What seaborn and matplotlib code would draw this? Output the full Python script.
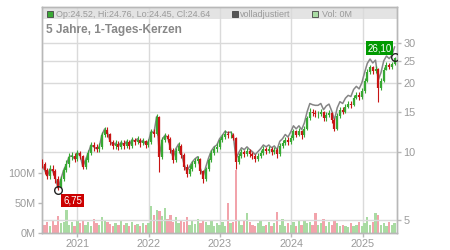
import matplotlib
matplotlib.use("Agg")
import matplotlib.pyplot as plt
import matplotlib.dates as mdates
from matplotlib.patches import Rectangle
import pandas as pd
import seaborn as sns

# ---------------- data (biweekly samples) ----------------
start_date = "2020-07-03"
first_open = 9.0
close = [
    8.8, 8.3, 7.8, 8.4, 8.2, 7.6, 6.9, 7.6, 8.3, 8.8,
    9.5, 9.6, 9.3, 9.9, 9.6, 8.6, 9.2, 9.9, 10.7, 10.5,
    10.3, 10.5, 11.9, 12.5, 12.0, 11.0, 10.6, 10.8, 10.5, 10.9,
    10.6, 11.0, 10.6, 11.2, 11.0, 11.3, 10.9, 11.1, 10.7, 11.0,
    12.2, 12.0, 14.2, 9.5, 11.2, 11.7, 11.4, 10.2, 9.2, 10.1,
    10.6, 9.7, 8.6, 8.0, 8.4, 8.8, 9.1, 9.3, 8.2, 7.6,
    8.4, 9.2, 9.9, 10.3, 10.5, 11.2, 11.6, 12.0, 11.8, 11.9,
    11.5, 9.0, 9.6, 10.0, 9.8, 10.1, 9.8, 9.6, 9.3, 9.6,
    9.9, 10.3, 10.1, 10.3, 10.0, 10.2, 9.8, 10.6, 10.9, 11.3,
    11.0, 11.5, 12.3, 11.9, 12.3, 11.8, 12.6, 14.0, 15.0, 14.8,
    14.6, 14.6, 14.9, 14.0, 14.5, 14.8, 13.8, 12.6, 14.4, 15.3,
    15.0, 15.8, 16.3, 16.1, 17.3, 17.8, 17.4, 18.5, 20.5, 22.5,
    23.5, 22.6, 23.2, 19.0, 20.5, 23.0, 24.2, 23.6, 24.3, 25.9,
]
high = [
    9.3, 9.0, 8.5, 8.7, 8.7, 8.4, 7.8, 7.8, 8.6, 9.2,
    9.9, 10.0, 9.9, 10.2, 10.1, 9.7, 9.5, 10.2, 11.0, 11.0,
    10.8, 10.9, 12.2, 12.9, 12.8, 12.1, 11.2, 11.2, 11.1, 11.3,
    11.2, 11.4, 11.3, 11.6, 11.5, 11.7, 11.5, 11.5, 11.3, 11.4,
    12.6, 12.6, 14.6, 14.4, 11.6, 12.1, 12.0, 11.6, 10.4, 10.4,
    11.0, 10.8, 9.9, 8.8, 8.7, 9.1, 9.4, 9.6, 9.4, 8.3,
    8.6, 9.4, 10.2, 10.6, 10.9, 11.5, 12.0, 12.4, 12.3, 12.3,
    12.1, 11.6, 9.9, 10.3, 10.2, 10.4, 10.3, 10.0, 9.8, 9.9,
    10.2, 10.6, 10.5, 10.6, 10.5, 10.5, 10.4, 10.9, 11.2, 11.6,
    11.6, 11.8, 12.6, 12.5, 12.7, 12.5, 13.0, 14.4, 15.5, 15.4,
    15.2, 15.1, 15.4, 15.1, 14.9, 15.3, 15.0, 14.0, 14.8, 15.8,
    15.7, 16.3, 16.8, 16.8, 17.8, 18.4, 18.3, 19.1, 21.2, 23.2,
    24.2, 23.9, 23.9, 23.4, 21.2, 23.6, 24.8, 24.6, 24.9, 26.1,
]
low = [
    8.5, 8.0, 7.6, 7.6, 7.9, 7.3, 6.75, 6.9, 7.4, 8.1,
    8.6, 9.2, 9.0, 9.1, 9.3, 8.4, 8.4, 9.0, 9.7, 10.1,
    10.0, 10.0, 10.3, 11.6, 11.6, 10.7, 10.3, 10.3, 10.2, 10.3,
    10.3, 10.4, 10.3, 10.4, 10.7, 10.8, 10.5, 10.7, 10.4, 10.5,
    10.8, 11.6, 11.8, 8.1, 9.3, 11.0, 11.0, 9.9, 8.9, 9.0,
    9.9, 9.4, 8.3, 7.7, 7.8, 8.2, 8.6, 8.9, 8.0, 7.3,
    7.4, 8.2, 9.0, 9.7, 10.0, 10.3, 11.0, 11.4, 11.5, 11.5,
    11.2, 8.4, 8.8, 9.4, 9.5, 9.6, 9.5, 9.3, 9.0, 9.1,
    9.4, 9.7, 9.8, 9.9, 9.7, 9.8, 9.4, 9.6, 10.4, 10.7,
    10.7, 10.8, 11.3, 11.6, 11.7, 11.4, 11.6, 12.4, 13.8, 14.4,
    14.2, 14.1, 14.3, 13.6, 13.7, 14.2, 13.4, 12.3, 12.4, 14.1,
    14.6, 14.8, 15.5, 15.6, 15.9, 17.0, 16.9, 17.1, 18.2, 20.2,
    22.1, 22.0, 22.2, 16.6, 18.6, 20.2, 22.8, 23.1, 23.2, 24.0,
]
adjusted = [
    8.8, 8.3, 7.8, 8.4, 8.2, 7.6, 6.9, 7.6, 8.3, 8.8,
    9.5, 9.6, 9.3, 9.9, 9.6, 8.6, 9.2, 9.9, 10.7, 10.5,
    10.3, 10.5, 11.9, 12.6, 12.1, 11.1, 10.7, 10.9, 10.6, 11.0,
    10.7, 11.1, 10.7, 11.3, 11.1, 11.4, 11.0, 11.2, 10.8, 11.1,
    12.3, 12.1, 14.3, 9.6, 11.3, 11.8, 11.6, 10.4, 9.4, 10.3,
    10.8, 9.9, 8.8, 8.2, 8.6, 9.0, 9.3, 9.5, 8.4, 7.8,
    8.6, 9.4, 10.1, 10.5, 10.7, 11.4, 11.8, 12.3, 12.1, 12.2,
    11.8, 9.3, 9.9, 10.4, 10.2, 10.5, 10.2, 10.0, 9.7, 10.0,
    10.3, 10.7, 10.5, 10.7, 10.4, 10.6, 10.2, 11.1, 11.4, 11.9,
    11.6, 12.2, 13.0, 12.6, 13.0, 12.5, 13.4, 15.0, 16.3, 16.1,
    16.0, 16.0, 16.3, 15.3, 15.9, 16.2, 15.1, 13.8, 15.6, 16.6,
    16.3, 17.2, 17.7, 17.5, 18.8, 19.4, 18.9, 20.1, 22.3, 24.5,
    25.6, 24.6, 25.3, 20.7, 22.3, 25.1, 26.4, 25.7, 26.6, 29.0,
]
volume_m = [
    22, 14, 18, 12, 20, 14, 28, 16, 18, 38,
    14, 18, 12, 22, 16, 20, 14, 18, 12, 24,
    16, 14, 26, 20, 18, 15, 12, 17, 14, 20,
    13, 16, 12, 18, 14, 15, 12, 16, 13, 17,
    45, 30, 39, 36, 28, 42, 24, 30, 18, 26,
    16, 22, 18, 26, 14, 20, 15, 24, 16, 22,
    18, 14, 20, 12, 16, 14, 18, 12, 50, 16,
    18, 105, 20, 14, 22, 34, 18, 14, 12, 16,
    20, 12, 14, 18, 12, 16, 35, 14, 23, 12,
    16, 14, 18, 12, 20, 14, 22, 16, 18, 14,
    34, 14, 16, 24, 12, 18, 14, 20, 16, 12,
    14, 12, 10, 16, 12, 14, 18, 12, 16, 26,
    14, 18, 33, 30, 14, 16, 12, 18, 14, 16,
]
price_ticks = [5, 10, 15, 20, 25, 30]
vol_ticks_m = [0, 50, 100]
title_text = "5 Jahre, 1-Tages-Kerzen"
legend_ohlc = "Op:24.52, Hi:24.76, Lo:24.45, Cl:24.64"
legend_adj = "volladjustiert"
legend_vol = "Vol: 0M"
x_start, x_end = "2020-07-02", "2025-06-25"

# ---------------- styling ----------------
sns.set_theme(style="white")
plt.rcParams["font.family"] = ["Liberation Sans", "DejaVu Sans"]

GREEN = "#36a832"
RED = "#c81414"
VOL_GREEN = "#a9dba3"
VOL_RED = "#f2a3ab"
GRID = "#dadada"
SPINE = "#b8b8b8"
LABEL = "#9a9a9a"

W, H = 450, 250
fig = plt.figure(figsize=(4.5, 2.5), dpi=100)
fig.patch.set_facecolor("white")
L, R, T, B = 41.6, 397.0, 7.0, 233.0
axv = fig.add_axes([L / W, 1 - B / H, (R - L) / W, (B - T) / H])

dates = pd.date_range(start_date, periods=len(close), freq="14D")
opens = [first_open] + close[:-1]
up = [c >= o for c, o in zip(close, opens)]
ccol = [GREEN if u else RED for u in up]

# volume (left axis)
axv.bar(dates, [v * 1e6 for v in volume_m], width=12,
        color=[VOL_GREEN if u else VOL_RED for u in up], linewidth=0, zorder=1)
axv.set_ylim(0, 376e6)
axv.set_yticks([v * 1e6 for v in vol_ticks_m])
axv.set_yticklabels([f"{v}M" for v in vol_ticks_m])
axv.set_xlim(pd.Timestamp(x_start), pd.Timestamp(x_end))
axv.xaxis.set_major_locator(mdates.YearLocator())
axv.xaxis.set_major_formatter(mdates.DateFormatter("%Y"))
axv.set_axisbelow(True)
axv.grid(axis="x", color=GRID, lw=1)
axv.grid(axis="y", visible=False)
axv.add_patch(Rectangle((0, 1 - 12 / (B - T)), 1, 12 / (B - T), transform=axv.transAxes,
                        facecolor="#e3e3e3", edgecolor="none", zorder=-1))

# price (right axis, log)
axp = axv.twinx()
axp.set_yscale("log")
axp.set_ylim(4.38, 43.4)
axp.set_axisbelow(True)
axp.grid(axis="y", which="major", color=GRID, lw=1, zorder=0)
sns.lineplot(x=dates, y=adjusted, ax=axp, color="#858585", lw=1.1, zorder=2)
lo = [min(c, o) for c, o in zip(close, opens)]
hi = [max(c, o) for c, o in zip(close, opens)]
axp.vlines(dates, low, high, colors=ccol, lw=0.8, zorder=3)
axp.vlines(dates, lo, hi, colors=ccol, lw=1.6, zorder=3)
axp.set_yticks(price_ticks)
axp.set_yticklabels([str(p) for p in price_ticks])
axp.yaxis.set_minor_locator(matplotlib.ticker.NullLocator())
axp.set_ylabel("")
axp.set_xlabel("")

for a in (axv, axp):
    for s in a.spines.values():
        s.set_color(SPINE)
        s.set_linewidth(1)
axv.tick_params(axis="both", colors=SPINE, labelcolor=LABEL, labelsize=7.8,
                length=3, width=1, pad=1.5, left=True, bottom=True)
axp.tick_params(axis="y", colors=SPINE, labelcolor=LABEL, labelsize=7.8,
                length=3, width=1, pad=1.5, right=True)

# min / max markers
imin = low.index(min(low))
imax = high.index(max(high))
for i, val, col, off, ha in [(imin, low[imin], "#cc0000", (5, -10), "left"),
                             (imax, high[imax], "#009a00", (-3, 9), "right")]:
    axp.plot([dates[i]], [val], marker="o", ms=5.5, mfc="none", mec="#222222",
             mew=1, zorder=5)
    axp.annotate(f"{val:.2f}".replace(".", ","), (dates[i], val),
                 xytext=off, textcoords="offset pixels", ha=ha, va="center",
                 color="white", fontsize=7,
                 bbox=dict(boxstyle="square,pad=0.18", fc=col, ec="none"), zorder=6)

# header legend
def fx(x):
    return x / W
def fy(y):
    return 1 - y / H

for (x0, col, txt, tx) in [(46.7, "#3aaa35", legend_ohlc, 55.5),
                           (231.5, "#555555", legend_adj, 239.5),
                           (312.3, VOL_GREEN, legend_vol, 321.5)]:
    fig.patches.append(Rectangle((fx(x0), fy(17.3)), 6 / W, 6 / H, transform=fig.transFigure,
                                 facecolor=col, edgecolor="#444444", lw=0.6))
    fig.text(fx(tx), fy(14.3), txt, color=LABEL, fontsize=6.5, va="center", ha="left")

fig.text(fx(46.5), fy(30), title_text, color="#888888", fontsize=8.6,
         fontweight="bold", va="center", ha="left")

fig.savefig("out.png", dpi=100)
